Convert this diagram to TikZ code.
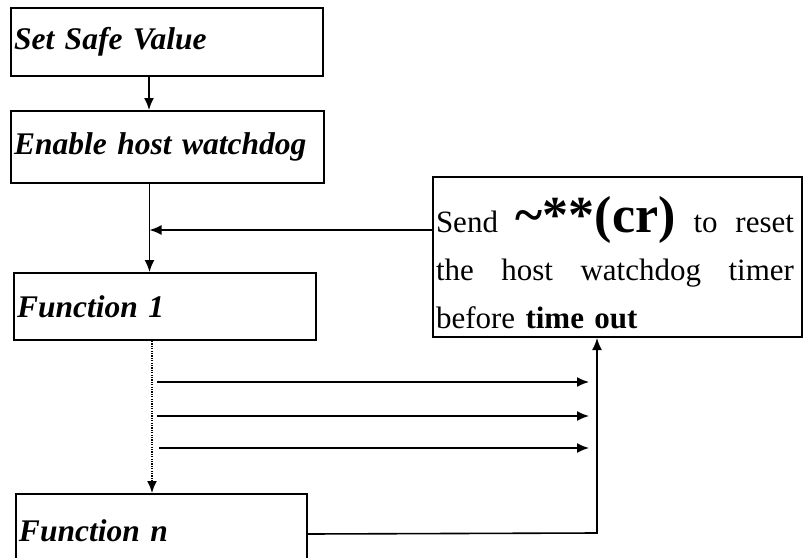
\documentclass[tikz,border=0pt]{standalone}
\usepackage{fontspec}
\setmainfont{Liberation Serif}
\usetikzlibrary{arrows.meta}

\tikzset{
  stepbox/.style={draw,line width=2pt,anchor=north west,inner xsep=3pt,inner ysep=0pt,
    align=left,font=\bfseries\itshape\fontsize{31.5}{31.5}\selectfont},
  flow/.style={line width=1.6pt}
}

\begin{document}
\begin{tikzpicture}[>={Latex[length=12pt,width=10pt]},x=1pt,y=-1pt]
  \clip (0,0) rectangle (803,557);
  % the steps on the left
  \node[stepbox,text width=306,minimum height=68] (ssv) at (10,7) {Set Safe Value};
  \node[stepbox,text width=307,minimum height=72] (ehw) at (10,110) {Enable host watchdog};
  \node[stepbox,text width=296,minimum height=67] (f1) at (13,272) {Function 1};
  \node[stepbox,text width=285,minimum height=80] (fn) at (15,493) {\raisebox{6pt}{Function n}};
  % reset note
  \node[draw,line width=2pt,anchor=north west,text width=363,minimum height=160,
    inner xsep=3pt,inner ysep=0pt,align=left,font=\fontsize{31}{48}\selectfont] (send) at (432,176)
    {\makebox[358pt][l]{\rule{0pt}{48pt}Send\hfill{\bfseries\fontsize{52}{52}\selectfont\textasciitilde**(cr)}\hfill to\hfill reset}\\
     \makebox[358pt][l]{the\hfill host\hfill watchdog\hfill timer}\\
     before \textbf{time out}};
  \coordinate (trunk) at ([xshift=-18]ehw.south);
  \coordinate (turn) at (597,533);
  % arrows
  \draw[flow,->] ([xshift=-18]ssv.south) -- ([xshift=-18]ssv.south |- ehw.north);
  \draw[flow,->] (trunk) -- (trunk |- f1.north);
  \draw[flow,->] ([yshift=27]send.west) -- ([yshift=27]send.west -| trunk);
  \draw[flow,dash pattern=on 1.2pt off 1.2pt,->] ([xshift=-13]f1.south) -- ([xshift=-13]f1.south |- fn.north);
  \foreach \y/\s in {382/157,416/157,448/159} {
    \draw[flow,->] (\s,\y) -- (589,\y);
  }
  \draw[flow,->] (fn.east) -- (turn) -- (turn |- send.south);
\end{tikzpicture}
\end{document}
